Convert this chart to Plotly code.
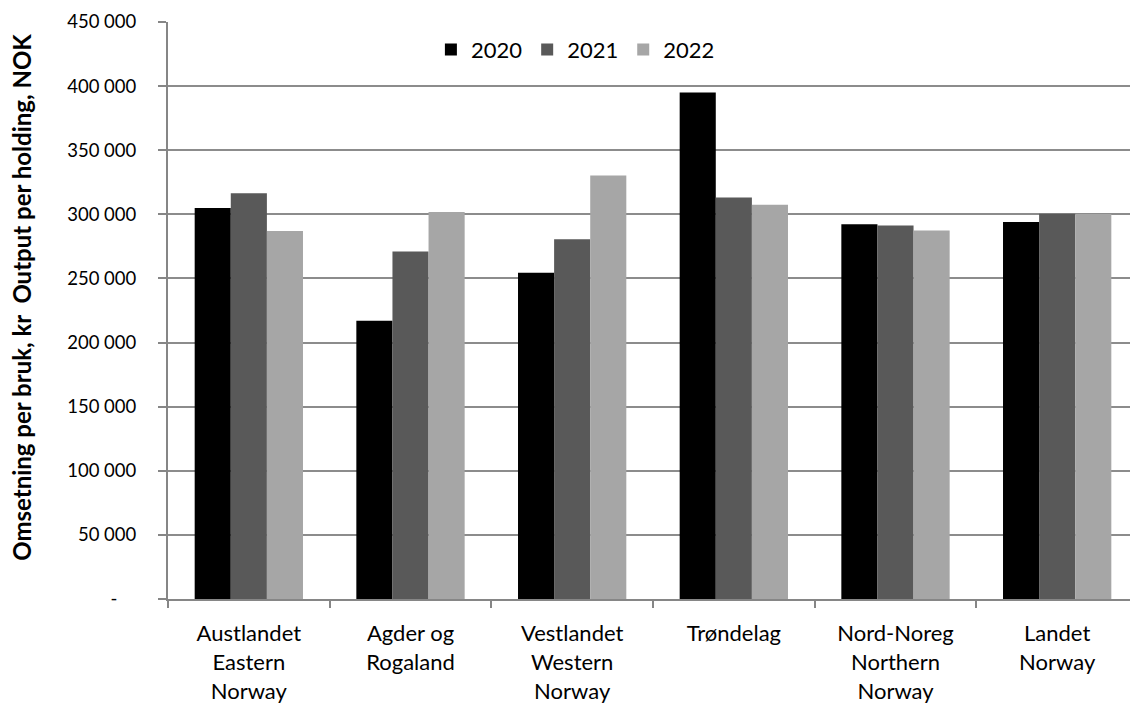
import plotly.graph_objects as go

categories = ["Austlandet<br>Eastern<br>Norway", "Agder og<br>Rogaland", "Vestlandet<br>Western<br>Norway",
              "Trøndelag", "Nord-Noreg<br>Northern<br>Norway", "Landet<br>Norway"]
years = ["2020", "2021", "2022"]
v2020 = [305000, 217000, 254500, 395000, 292300, 294000]
v2021 = [316500, 271000, 280500, 313200, 291200, 300500]
v2022 = [287000, 301800, 330200, 307500, 287300, 300300]
colors = ["#000000", "#595959", "#a6a6a6"]
tickvals = [0, 50000, 100000, 150000, 200000, 250000, 300000, 350000, 400000, 450000]
ticktext = ["-\u00a0\u00a0\u00a0\u00a0", "50 000", "100 000", "150 000", "200 000", "250 000",
            "300 000", "350 000", "400 000", "450 000"]
ytitle = "<b>Omsetning per bruk, kr  Output per holding, NOK</b>"

fig = go.Figure()
for name, vals, c in zip(years, [v2020, v2021, v2022], colors):
    fig.add_trace(go.Bar(x=categories, y=vals, name=name, marker=dict(color=c, line=dict(width=0))))

font = "Lato, 'Open Sans', sans-serif"
fig.update_layout(
    width=1130, height=701,
    margin=dict(l=160, r=0, t=14, b=110),
    paper_bgcolor="white", plot_bgcolor="white",
    barmode="group", bargap=0.33, bargroupgap=0,
    font=dict(family=font, size=19, color="#000000"),
    legend=dict(orientation="h", x=0.42, xanchor="center", y=0.952, yanchor="middle",
                font=dict(size=22), bgcolor="rgba(0,0,0,0)", traceorder="normal"),
    showlegend=True,
    annotations=[dict(text=ytitle, xref="paper", yref="paper", x=0, y=0.522, xanchor="center",
                      yanchor="middle", xshift=-146, textangle=-90, showarrow=False,
                      font=dict(size=24, family=font, color="#000000"))],
)
fig.update_xaxes(showline=True, linecolor="#868686", linewidth=2, ticks="outside", tickson="boundaries",
                 ticklen=7, tickcolor="#868686", tickwidth=2, tickfont=dict(size=22),
                 ticklabelstandoff=14, showgrid=False)
fig.update_yaxes(range=[0, 450000], tickvals=tickvals, ticktext=ticktext, showgrid=True,
                 gridcolor="#8c8c8c", gridwidth=2, showline=True, linecolor="#868686", linewidth=2,
                 ticks="outside", ticklen=8, tickcolor="#868686", tickwidth=2, tickfont=dict(size=18.5),
                 ticklabelstandoff=18, zeroline=False)

fig.write_html("out.html")
